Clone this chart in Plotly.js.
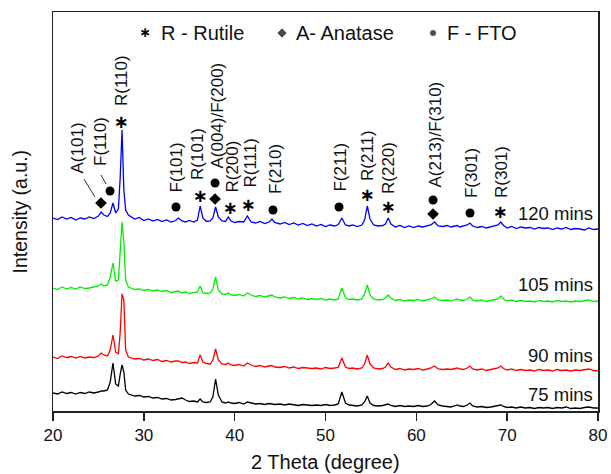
<!DOCTYPE html>
<html>
<head>
<meta charset="utf-8">
<script src="https://cdn.plot.ly/plotly-3.0.1.min.js"></script>
<style>html,body{margin:0;padding:0;background:#fff;}#chart{width:611px;height:474px;}</style>
</head>
<body>
<div id="chart"></div>
<script>
// 2 Theta (degree)
const twoTheta = [
  20, 20.5, 21, 21.5, 22, 22.5, 23, 23.5, 24, 24.5,
  25, 25.3, 25.6, 26.0, 26.3, 26.6, 26.9, 27.2, 27.4, 27.6,
  27.8, 28.0, 28.3, 28.7, 29, 29.5, 30, 30.5, 31, 31.5,
  32, 32.5, 33, 33.5, 33.8, 34.2, 34.6, 35, 35.5, 35.9,
  36.2, 36.5, 36.9, 37.3, 37.6, 37.9, 38.2, 38.6, 39.0, 39.3,
  39.6, 40.0, 40.5, 41.0, 41.4, 41.8, 42.3, 42.8, 43.3, 43.8,
  44.1, 44.4, 45, 45.5, 46, 46.5, 47, 47.5, 48, 48.5,
  49, 49.5, 50, 50.5, 51, 51.4, 51.8, 52.2, 52.6, 53,
  53.5, 54, 54.3, 54.6, 54.9, 55.3, 55.8, 56.3, 56.6, 56.9,
  57.2, 57.7, 58.2, 58.7, 59.2, 59.7, 60.2, 60.7, 61.2, 61.6,
  62.0, 62.4, 62.9, 63.4, 63.8, 64.2, 64.5, 64.8, 65.2, 65.6,
  65.9, 66.2, 66.7, 67.2, 67.7, 68.2, 68.6, 69.0, 69.3, 69.6,
  70, 70.5, 71, 71.5, 72, 72.5, 73, 73.5, 74, 74.5,
  75, 75.5, 76, 76.5, 77, 77.5, 78, 78.5, 79, 79.5,
  80
];

// Intensity (a.u.), stacked patterns
const int120 = [
  194, 192.5, 195, 193, 194.5, 192, 194, 193, 195, 193.5,
  196, 200, 197, 195.5, 199, 209, 199, 203, 235, 282,
  222, 202, 197, 195, 193, 194.5, 191.5, 193, 191, 192.5,
  190.5, 192, 190, 191.5, 194, 191, 190, 191.5, 190, 192,
  206, 194, 190.5, 191, 194, 205, 195, 191, 190.5, 195,
  191, 189.5, 190.5, 190, 196, 190, 189, 190.5, 188.5, 190,
  193, 189.5, 188, 189.5, 187.5, 189, 187, 188.5, 186.5, 188,
  186, 187.5, 185.5, 187, 186, 187.5, 194, 187, 186, 187,
  185.5, 187, 192, 206, 193, 187, 186, 186.5, 188, 194,
  188, 185, 186.5, 184.5, 186, 184.5, 186, 185, 186.5, 187,
  190, 186, 185.5, 186.5, 185, 186, 186.5, 185, 186, 187,
  189, 186, 184.5, 185.5, 184, 185, 185.5, 187, 190, 186.5,
  184, 185.5, 183.5, 185, 184, 184.5, 183, 184.5, 183.5, 184,
  182.5, 184, 183, 184.5, 182.5, 183.5, 183, 182, 184, 182.5,
  183
];
const int105 = [
  124, 122.5, 125, 123, 124.5, 123, 125, 123.5, 124, 125,
  126, 128, 126, 127, 135, 149, 131, 132, 160, 190,
  170, 132, 125, 124, 122.5, 123, 121.5, 122.5, 121, 122,
  120.5, 121.5, 119.5, 120.5, 121, 119, 120, 118.5, 119.5, 120,
  126, 119, 118.5, 119, 123, 135, 122, 118, 117.5, 119,
  117, 116.5, 117.5, 116, 119, 117, 115.5, 116.5, 115, 116,
  117, 115, 114, 115, 113.5, 114.5, 113, 114, 112.5, 113.5,
  112.5, 113.5, 112, 113, 112, 113, 124, 114, 112.5, 113,
  112, 113, 118, 127, 117, 113, 112, 112.5, 114, 117,
  114, 111.5, 112.5, 111, 112, 111.5, 112.5, 111, 112, 113,
  115, 112, 111.5, 112, 111, 112, 113, 112, 111.5, 113,
  115, 112, 111, 112, 110.5, 111.5, 112, 113, 116, 113,
  111, 112, 110.5, 111.5, 110.5, 111, 110, 111.5, 110.5, 111,
  110, 111.5, 110.5, 111, 110, 111, 110.5, 111.5, 112, 110.5,
  111
];
const int90 = [
  55, 53.5, 56, 54.5, 55.5, 54, 55.5, 54, 55, 54.5,
  56, 59, 57, 56, 62, 77, 60, 58, 80, 118,
  112, 62, 55, 54, 53, 53.5, 52, 53, 51.5, 52.5,
  50.5, 51.5, 50, 51, 51, 49.5, 50, 48.5, 49.5, 49,
  57, 50, 48.5, 48, 52, 63, 52, 48, 47.5, 49,
  47, 46.5, 47.5, 46, 49, 47, 45.5, 46.5, 45, 46,
  46.5, 45, 44.5, 45.5, 44, 45, 43.5, 44.5, 44, 43.5,
  44, 43, 44.5, 43.5, 44, 44.5, 54, 45, 43.5, 44,
  43, 44, 48, 57, 48, 44, 43, 43.5, 45, 49,
  45, 42.5, 43.5, 42, 43, 42.5, 43.5, 42, 43, 44,
  46, 43, 42.5, 43, 42.5, 43, 44, 43, 42.5, 44,
  46, 43, 42, 43, 41.5, 42.5, 43, 44, 46, 43.5,
  42, 43, 41.5, 42.5, 41.5, 42, 41, 42.5, 41.5, 42,
  41, 42.5, 41.5, 42, 41, 42, 41.5, 42.5, 43, 41.5,
  41
];
const int75 = [
  19, 18, 20, 18.5, 19.5, 18, 19.5, 18.5, 20, 19,
  20, 21, 21, 22, 30, 49, 28, 26, 38, 47,
  40, 22, 18, 17, 16, 16.5, 15, 15.5, 14, 14.5,
  13, 13.5, 12, 12.5, 13, 14, 12, 10.5, 11, 10,
  13, 10, 9.5, 10, 15, 33, 17, 10, 9, 10,
  9, 8.5, 9.5, 8, 10, 9, 8, 8.5, 7.5, 8.5,
  8, 7.5, 8, 7, 8, 7.5, 6.5, 7.5, 7, 6.5,
  7, 6.5, 7.5, 6.5, 7, 8, 20, 9, 7, 6.5,
  6, 7, 10, 16, 9, 6.5, 6, 6.5, 7, 8,
  6.5, 5.5, 6.5, 5.5, 6, 5.5, 6.5, 5.5, 6, 7.5,
  11, 7, 6, 5.5, 5, 6, 7, 6, 5.5, 7,
  9, 6, 5, 5.5, 4.5, 5, 5.5, 6, 7, 5.5,
  4.5, 5, 4, 5, 4, 4.5, 3.5, 4.5, 4, 4.5,
  3.5, 4.5, 4, 5, 3.5, 4, 3.5, 4.5, 5, 4,
  4
];

const seriesNames = ["75 mins", "90 mins", "105 mins", "120 mins"];
const seriesColors = ["#000000", "#ff0000", "#00ee00", "#0000ff"];
const seriesData = [int75, int90, int105, int120];

// Peak labels (2θ of label centre) and their placement
const peakLabels = ["A(101)", "F(110)", "R(110)", "F(101)", "R(101)", "A(004)/F(200)", "R(200)",
  "R(111)", "F(210)", "F(211)", "R(211)", "R(220)", "A(213)/F(310)", "F(301)", "R(301)"];
const peakLabelX = [22.75, 25.17, 27.49, 33.65, 35.85, 38.06, 39.71, 41.69, 44.44, 51.6, 54.57, 56.88, 62.06, 66.02, 69.32];
const peakLabelY = [264.5, 271, 331, 244.5, 258, 296.5, 245.5, 248.5, 243, 244.5, 256, 244, 277.5, 239, 240];

// Phase marker positions
const rutileX = [27.49, 36.18, 39.49, 41.47, 54.57, 56.88, 69.21];
const rutileY = [289, 215, 203, 206, 216, 204, 199];
const anataseX = [25.28, 37.84, 61.84];
const anataseY = [209, 213, 198];
const ftoX = [26.28, 33.54, 37.84, 44.22, 51.49, 61.84, 65.91];
const ftoY = [221, 205, 229, 202, 205, 212, 199];

const FONT = "Liberation Sans, Arial, sans-serif";

const traces = seriesData.map((ys, i) => ({
  x: twoTheta, y: ys, type: "scatter", mode: "lines",
  name: seriesNames[i],
  line: {color: seriesColors[i], width: 1.3},
  hoverinfo: "x+y+name"
}));

traces.push({
  x: rutileX, y: rutileY, type: "scatter", mode: "text",
  text: rutileX.map(() => "∗"), textposition: "middle center",
  textfont: {family: "DejaVu Sans", size: 18, weight: "bold", color: "#000"},
  hoverinfo: "skip", cliponaxis: false
});
traces.push({
  x: anataseX, y: anataseY, type: "scatter", mode: "markers",
  marker: {symbol: "diamond", size: 9, color: "#000"},
  hoverinfo: "skip", cliponaxis: false
});
traces.push({
  x: ftoX, y: ftoY, type: "scatter", mode: "markers",
  marker: {symbol: "circle", size: 9, color: "#000"},
  hoverinfo: "skip", cliponaxis: false
});
// key symbols at the top
traces.push({
  x: [30.13], y: [379], type: "scatter", mode: "text", text: ["∗"],
  textposition: "middle center", textfont: {family: "DejaVu Sans", size: 14, weight: "bold", color: "#000"},
  hoverinfo: "skip", cliponaxis: false
});
traces.push({
  x: [45.21, 61.84], y: [379, 379], type: "scatter", mode: "markers",
  marker: {symbol: ["diamond", "circle"], size: [8, 7], color: "#000"},
  hoverinfo: "skip", cliponaxis: false
});

const annotations = [];
peakLabels.forEach((t, i) => {
  annotations.push({
    x: peakLabelX[i], y: peakLabelY[i], xref: "x", yref: "y",
    text: t, textangle: -90, showarrow: false,
    xanchor: "center", yanchor: "middle",
    font: {family: FONT, size: 17, color: "#111"}
  });
});
const seriesLabelY = [18, 57, 128, 199];
seriesNames.forEach((t, i) => {
  annotations.push({
    x: 0.9945, y: seriesLabelY[i], xref: "paper", yref: "y",
    text: t, showarrow: false, xanchor: "right", yanchor: "middle",
    font: {family: FONT, size: 18.5, color: "#111"}
  });
});
const keyText = ["R - Rutile", "A- Anatase", "F - FTO"];
const keyX = [0.1945, 0.4422, 0.7193];
keyText.forEach((t, i) => {
  annotations.push({
    x: keyX[i], y: 379, xref: "paper", yref: "y",
    text: t, showarrow: false, xanchor: "left", yanchor: "middle",
    font: {family: FONT, size: 20, color: "#111"}
  });
});
annotations.push({
  x: -0.0606, y: 0.5, xref: "paper", yref: "paper", text: "Intensity (a.u.)",
  textangle: -90, showarrow: false, xanchor: "center", yanchor: "middle",
  font: {family: FONT, size: 19.5, color: "#111"}
});
annotations.push({
  x: 0.5, y: -0.128, xref: "paper", yref: "paper", text: "2 Theta (degree)",
  showarrow: false, xanchor: "center", yanchor: "middle",
  font: {family: FONT, size: 20, color: "#111"}
});

const layout = {
  width: 611, height: 474,
  margin: {l: 53, r: 13, t: 12, b: 63},
  paper_bgcolor: "#fff", plot_bgcolor: "#fff",
  showlegend: false,
  xaxis: {
    range: [20, 80], dtick: 10, tick0: 20,
    showline: true, mirror: true, linecolor: "#222", linewidth: 1.5,
    ticks: "outside", ticklen: 8, tickwidth: 1.5, tickcolor: "#222",
    showgrid: false, zeroline: false,
    tickfont: {family: FONT, size: 17, color: "#111"}
  },
  yaxis: {
    range: [1, 400],
    showline: true, mirror: true, linecolor: "#222", linewidth: 1.5,
    ticks: "", showticklabels: false, showgrid: false, zeroline: false
  },
  shapes: [
    {type: "line", xref: "x", yref: "y", x0: 23.41, y0: 233, x1: 24.62, y1: 215, line: {color: "#333", width: 1}},
    {type: "line", xref: "x", yref: "y", x0: 25.28, y0: 237, x1: 25.84, y1: 228, line: {color: "#333", width: 1}}
  ],
  annotations: annotations
};

Plotly.newPlot("chart", traces, layout, {displayModeBar: false, staticPlot: true});
</script>
</body>
</html>
